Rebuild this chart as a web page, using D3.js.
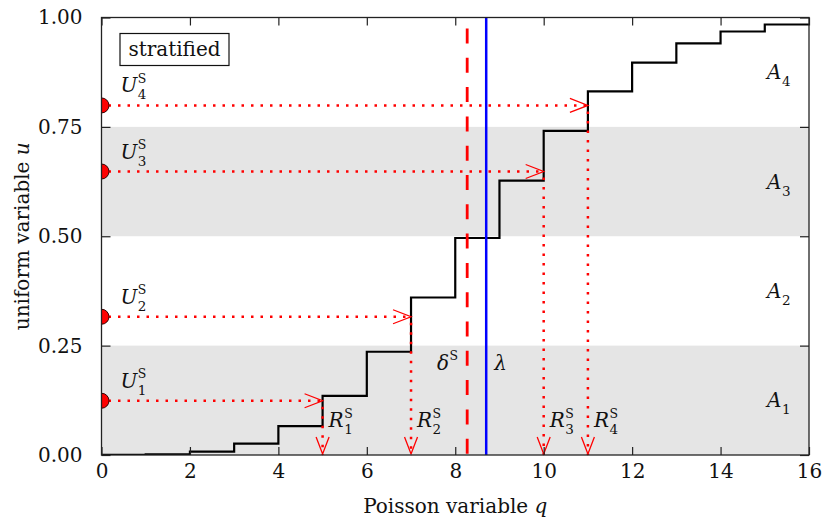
<!DOCTYPE html>
<html>
<head>
<meta charset="utf-8">
<script src="https://cdn.jsdelivr.net/npm/d3@7"></script>
<style>
  body { margin: 0; background: #fff; }
  svg text { font-family: "DejaVu Serif", serif; fill: #111; }
</style>
</head>
<body>
<svg id="chart" width="825" height="524"></svg>
<script>
// Poisson CDF values F(q) for q = 0..15
const qValues = [0, 1, 2, 3, 4, 5, 6, 7, 8, 9, 10, 11, 12, 13, 14, 15];
const cdfValues = [0.0002, 0.0016, 0.0079, 0.026, 0.066, 0.135, 0.236, 0.360,
                   0.496, 0.627, 0.741, 0.831, 0.897, 0.941, 0.968, 0.984];
// Stratified uniform draws U_i^S and the resulting samples R_i^S
const uniforms = [0.124, 0.316, 0.648, 0.799];
const samples = [5, 7, 10, 11];
// Strata A_1..A_4
const strata = [[0, 0.25], [0.25, 0.5], [0.5, 0.75], [0.75, 1]];
const shadedStrata = [true, false, true, false];
const lambda = 8.7;
const deltaS = 8.27;
const xTicks = [0, 2, 4, 6, 8, 10, 12, 14, 16];
const yTicks = [0, 0.25, 0.5, 0.75, 1];

const svg = d3.select("#chart");
const x = d3.scaleLinear().domain([0, 16]).range([101.5, 809]);
const y = d3.scaleLinear().domain([0, 1]).range([455, 17.5]);
const red = "#ff0000";
const fs = 20;

svg.append("defs").append("clipPath").attr("id", "plot")
  .append("rect").attr("x", x(0)).attr("y", y(1))
  .attr("width", x(16) - x(0)).attr("height", y(0) - y(1));

// shaded strata
svg.append("g").selectAll("rect")
  .data(strata.filter((d, i) => shadedStrata[i]))
  .join("rect")
  .attr("x", x(0)).attr("width", x(16) - x(0))
  .attr("y", d => y(d[1])).attr("height", d => y(d[0]) - y(d[1]))
  .attr("fill", "#e5e5e5");

// italic symbol with optional subscript and superscript, as one text element
function mathLabel(g, px, py, main, sub, sup, anchorEnd) {
  const t = g.append("text").attr("x", px).attr("y", py).attr("font-size", fs);
  const m = t.append("tspan").attr("font-style", "italic").text(main);
  const w = m.node().getComputedTextLength();
  const sx = px + w + 0.5;
  let extra = 0;
  if (sup) {
    const s = t.append("tspan").attr("x", sx).attr("y", py - 9.5)
      .attr("font-size", 12.5).text(sup);
    extra = Math.max(extra, s.node().getComputedTextLength());
  }
  if (sub) {
    const s = t.append("tspan").attr("x", sx).attr("y", py + 7)
      .attr("font-size", 13.5).text(sub);
    extra = Math.max(extra, s.node().getComputedTextLength());
  }
  if (anchorEnd) t.attr("transform", `translate(${-(w + 0.5 + extra)},0)`);
  return t;
}
const labels = svg.append("g");
strata.forEach((d, i) => {
  mathLabel(labels, x(15.05), y((d[0] + d[1]) / 2) + 7, "A", String(i + 1), null);
});

// Poisson CDF step line
const stepPts = qValues.map((q, i) => [q, cdfValues[i]]);
stepPts.push([16, cdfValues[cdfValues.length - 1]]);
svg.append("path")
  .attr("d", d3.line().x(d => x(d[0])).y(d => y(d[1])).curve(d3.curveStepAfter)(stepPts))
  .attr("fill", "none").attr("stroke", "#000").attr("stroke-width", 2.2)
  .attr("clip-path", "url(#plot)");

// inverse-transform arrows
const arrows = svg.append("g").attr("stroke", red).attr("fill", "none");
uniforms.forEach((u, i) => {
  const xr = x(samples[i]), yu = y(u);
  arrows.append("line").attr("x1", x(0) + 7).attr("x2", xr).attr("y1", yu).attr("y2", yu)
    .attr("stroke-width", 2.5).attr("stroke-dasharray", "2.5 7");
  arrows.append("line").attr("x1", xr).attr("x2", xr).attr("y1", yu + 6).attr("y2", y(0))
    .attr("stroke-width", 2.5).attr("stroke-dasharray", "2.5 7");
  arrows.append("path")
    .attr("d", `M${xr - 18},${yu - 7}L${xr},${yu}L${xr - 18},${yu + 7}`)
    .attr("stroke-width", 1.3);
  arrows.append("path")
    .attr("d", `M${xr - 6.5},${y(0) - 18}L${xr},${y(0) - 1}L${xr + 6.5},${y(0) - 18}`)
    .attr("stroke-width", 1.3);
});

// delta^S (dashed) and lambda (solid)
svg.append("line").attr("x1", x(deltaS)).attr("x2", x(deltaS))
  .attr("y1", y(1) + 11).attr("y2", y(0))
  .attr("stroke", red).attr("stroke-width", 2.8).attr("stroke-dasharray", "15 14.3");
svg.append("line").attr("x1", x(lambda)).attr("x2", x(lambda))
  .attr("y1", y(1)).attr("y2", y(0))
  .attr("stroke", "#0000ff").attr("stroke-width", 2.5);

// uniform draws on the u axis
svg.append("g").attr("clip-path", "url(#plot)")
  .selectAll("circle").data(uniforms).join("circle")
  .attr("cx", x(0)).attr("cy", d => y(d)).attr("r", 7.5)
  .attr("fill", red).attr("stroke", "#300").attr("stroke-width", 1);

// frame and inward ticks
const frame = svg.append("g");
frame.append("g").attr("transform", `translate(0,${y(0)})`)
  .call(d3.axisBottom(x).tickValues(xTicks).tickSizeInner(-8).tickSizeOuter(0).tickPadding(9))
  .call(g => g.select(".domain").remove());
frame.append("g").attr("transform", `translate(0,${y(1)})`)
  .call(d3.axisTop(x).tickValues(xTicks).tickSizeInner(-8).tickSizeOuter(0).tickFormat(""))
  .call(g => g.select(".domain").remove());
frame.append("g").attr("transform", `translate(${x(0)},0)`)
  .call(d3.axisLeft(y).tickValues(yTicks).tickSizeInner(-9).tickSizeOuter(0).tickPadding(19)
    .tickFormat(d3.format(".2f")))
  .call(g => g.select(".domain").remove());
frame.append("g").attr("transform", `translate(${x(16)},0)`)
  .call(d3.axisRight(y).tickValues(yTicks).tickSizeInner(-9).tickSizeOuter(0).tickFormat(""))
  .call(g => g.select(".domain").remove());
frame.selectAll("g").attr("font-family", null);
frame.selectAll(".tick line").attr("stroke", "#222").attr("stroke-width", 1.2);
frame.selectAll(".tick text").attr("font-size", fs).attr("fill", "#111");
frame.append("rect").attr("x", x(0)).attr("y", y(1))
  .attr("width", x(16) - x(0)).attr("height", y(0) - y(1))
  .attr("fill", "none").attr("stroke", "#222").attr("stroke-width", 1.3);

// text labels
uniforms.forEach((u, i) => {
  mathLabel(labels, x(0.43), y(u) - 13, "U", String(i + 1), "S");
});
samples.forEach((r, i) => {
  mathLabel(labels, x(r) + 6, y(0) - 28, "R", String(i + 1), "S");
});
mathLabel(labels, x(deltaS) - 9, y(0.195), "δ", null, "S", true);
mathLabel(labels, x(lambda) + 8, y(0.195), "λ", null, null);

// legend box
const leg = svg.append("g");
leg.append("rect").attr("x", 120).attr("y", 33.5).attr("width", 109).attr("height", 32)
  .attr("fill", "#fff").attr("stroke", "#111").attr("stroke-width", 1.2);
leg.append("text").attr("x", 174.5).attr("y", 56).attr("text-anchor", "middle")
  .attr("font-size", fs).text("stratified");

// axis titles
const xt = svg.append("text").attr("x", (x(0) + x(16)) / 2).attr("y", 513)
  .attr("text-anchor", "middle").attr("font-size", fs);
xt.append("tspan").text("Poisson variable ");
xt.append("tspan").attr("font-style", "italic").text("q");
const yt = svg.append("text").attr("transform", `translate(29,${(y(0) + y(1)) / 2}) rotate(-90)`)
  .attr("text-anchor", "middle").attr("font-size", fs);
yt.append("tspan").text("uniform variable ");
yt.append("tspan").attr("font-style", "italic").text("u");
</script>
</body>
</html>
